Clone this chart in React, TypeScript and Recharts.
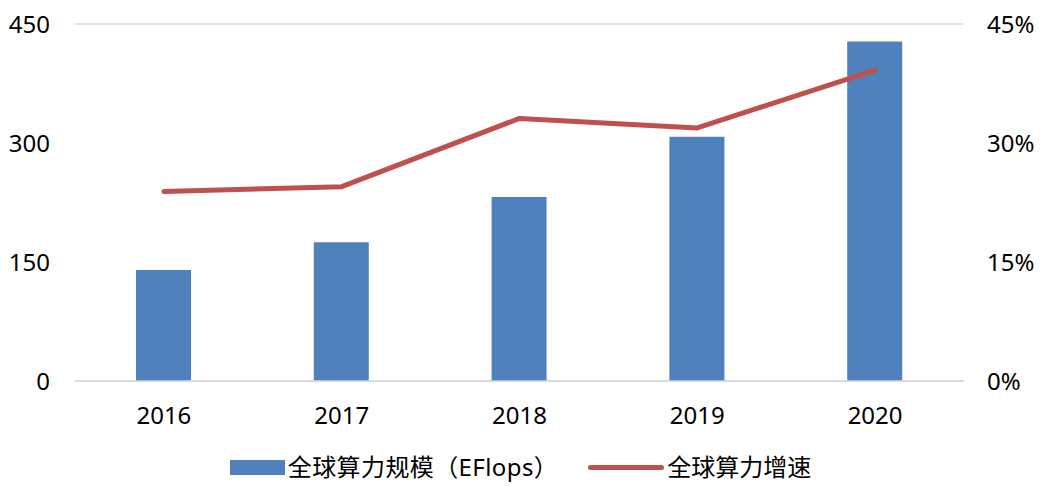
import React from "react";
import {
  Bar,
  CartesianGrid,
  ComposedChart,
  Legend,
  Line,
  XAxis,
  YAxis,
} from "recharts";

const years = ["2016", "2017", "2018", "2019", "2020"];
const computeScale = [140, 175, 232, 308, 428];
const computeGrowth = [23.9, 24.5, 33.1, 31.9, 39.2];
const leftTicks = [0, 150, 300, 450];
const rightTicks = [0, 15, 30, 45];
const seriesNames = ["全球算力规模（EFlops）", "全球算力增速"];

const data = years.map((year, i) => ({
  year,
  scale: computeScale[i],
  growth: computeGrowth[i],
}));

const FONT = '"Noto Sans", "Noto Sans CJK SC", sans-serif';
const BLUE = "#4f81bd";
const RED = "#c0504d";

// fixed order: bars first, then the line (recharts puts lines first)
function ChartLegend() {
  return (
    <div
      style={{
        display: "flex",
        justifyContent: "center",
        alignItems: "center",
        gap: 30,
        paddingTop: 6,
        fontFamily: FONT,
        fontSize: 24,
        lineHeight: "30px",
        color: "#000",
      }}
    >
      <div style={{ display: "flex", alignItems: "center", gap: 3 }}>
        <span
          style={{ display: "inline-block", width: 55, height: 15, background: BLUE }}
        />
        <span style={{ letterSpacing: 0.4 }}>{seriesNames[0]}</span>
      </div>
      <div style={{ display: "flex", alignItems: "center", gap: 3 }}>
        <span
          style={{
            display: "inline-block",
            width: 76,
            height: 5,
            borderRadius: 3,
            background: RED,
          }}
        />
        <span>{seriesNames[1]}</span>
      </div>
    </div>
  );
}

const tickStyle = { fill: "#000", fontSize: 24, fontFamily: FONT };

export default function App() {
  return (
    <div style={{ position: "absolute", left: 0, top: 0, background: "#fff" }}>
      <ComposedChart
        width={1041}
        height={486}
        data={data}
        margin={{ top: 24, right: 0, left: 0, bottom: 0 }}
      >
        <CartesianGrid vertical={false} stroke="#d9d9d9" strokeWidth={1.5} />
        <XAxis
          dataKey="year"
          axisLine={{ stroke: "#d9d9d9", strokeWidth: 1.5 }}
          tickLine={false}
          tickMargin={20}
          height={65}
          fontSize={24}
          tick={tickStyle}
        />
        <YAxis
          yAxisId="left"
          domain={[0, 450]}
          ticks={leftTicks}
          axisLine={false}
          tickLine={false}
          width={75}
          tickMargin={19}
          fontSize={24}
          tick={tickStyle}
        />
        <YAxis
          yAxisId="right"
          orientation="right"
          domain={[0, 45]}
          ticks={rightTicks}
          tickFormatter={(v: number) => `${v}%`}
          axisLine={false}
          tickLine={false}
          width={77}
          tickMargin={17}
          fontSize={24}
          tick={tickStyle}
        />
        <Legend verticalAlign="bottom" height={40} content={<ChartLegend />} />
        <Bar
          yAxisId="left"
          dataKey="scale"
          name={seriesNames[0]}
          fill={BLUE}
          barSize={55}
          isAnimationActive={false}
        />
        <Line
          yAxisId="right"
          dataKey="growth"
          name={seriesNames[1]}
          type="linear"
          stroke={RED}
          strokeWidth={5}
          strokeLinecap="round"
          strokeLinejoin="round"
          dot={false}
          activeDot={false}
          isAnimationActive={false}
        />
      </ComposedChart>
    </div>
  );
}
